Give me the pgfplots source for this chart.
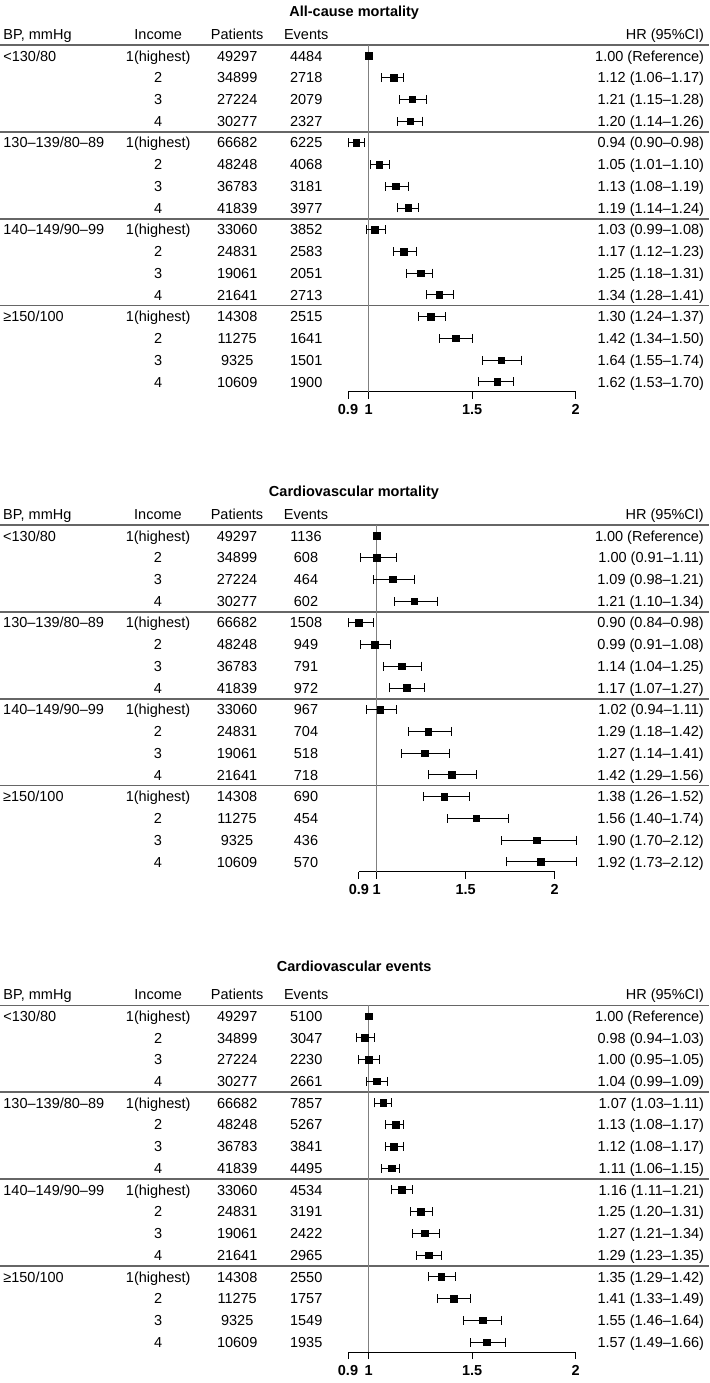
\documentclass[border=0pt]{standalone}
\usepackage{fontspec}
\setmainfont{Liberation Sans}
\usepackage{pgfplots}
\pgfplotsset{compat=1.18}
\usepackage{pgfplotstable}

\pgfplotstableread{
row hr lo hi
1 1.00 1.00 1.00
2 1.12 1.06 1.17
3 1.21 1.15 1.28
4 1.20 1.14 1.26
5 0.94 0.90 0.98
6 1.05 1.01 1.10
7 1.13 1.08 1.19
8 1.19 1.14 1.24
9 1.03 0.99 1.08
10 1.17 1.12 1.23
11 1.25 1.18 1.31
12 1.34 1.28 1.41
13 1.30 1.24 1.37
14 1.42 1.34 1.50
15 1.64 1.55 1.74
16 1.62 1.53 1.70
}\tabA
\pgfplotstableread{
row hr lo hi
1 1.00 1.00 1.00
2 1.00 0.91 1.11
3 1.09 0.98 1.21
4 1.21 1.10 1.34
5 0.90 0.84 0.98
6 0.99 0.91 1.08
7 1.14 1.04 1.25
8 1.17 1.07 1.27
9 1.02 0.94 1.11
10 1.29 1.18 1.42
11 1.27 1.14 1.41
12 1.42 1.29 1.56
13 1.38 1.26 1.52
14 1.56 1.40 1.74
15 1.90 1.70 2.12
16 1.92 1.73 2.12
}\tabB
\pgfplotstableread{
row hr lo hi
1 1.00 1.00 1.00
2 0.98 0.94 1.03
3 1.00 0.95 1.05
4 1.04 0.99 1.09
5 1.07 1.03 1.11
6 1.13 1.08 1.17
7 1.12 1.08 1.17
8 1.11 1.06 1.15
9 1.16 1.11 1.21
10 1.25 1.20 1.31
11 1.27 1.21 1.34
12 1.29 1.23 1.35
13 1.35 1.29 1.42
14 1.41 1.33 1.49
15 1.55 1.46 1.64
16 1.57 1.49 1.66
}\tabC

\definecolor{linegray}{gray}{0.4}
\definecolor{refgray}{gray}{0.5}

\newcommand\setcols[8]{\def\xBP{#1}\def\xInc{#2}\def\xPat{#3}\def\xEv{#4}\def\xHR{#5}\def\xT{#6}\def\xL{#7}\def\xR{#8}}
\newcommand\trow[6]{%
  \node[anchor=base west,yshift=-5.2pt,inner sep=0pt] at (axis cs:\xBP,-#1) {#2};
  \node[anchor=base,yshift=-5.2pt,inner sep=0pt] at (axis cs:\xInc,-#1) {#3};
  \node[anchor=base,yshift=-5.2pt,inner sep=0pt] at (axis cs:\xPat,-#1) {#4};
  \node[anchor=base,yshift=-5.2pt,inner sep=0pt] at (axis cs:\xEv,-#1) {#5};
  \node[anchor=base east,yshift=-5.2pt,inner sep=0pt] at (axis cs:\xHR,-#1) {#6};
}
\newcommand\panelframe[2]{% title, title y
  \node[anchor=base,yshift=-5.2pt,inner sep=0pt,font=\bfseries] at (axis cs:\xT,#2) {#1};
  \trow{0}{BP, mmHg}{Income}{Patients}{Events}{HR (95\%CI)}
  \draw[linegray,line width=1.4pt] (axis cs:\xL,-0.5) -- (axis cs:\xR,-0.5);
  \draw[linegray,line width=1.4pt] (axis cs:\xL,-4.5) -- (axis cs:\xR,-4.5);
  \draw[linegray,line width=1.4pt] (axis cs:\xL,-8.5) -- (axis cs:\xR,-8.5);
  \draw[linegray,line width=1.4pt] (axis cs:\xL,-12.5) -- (axis cs:\xR,-12.5);
}

\pgfplotsset{forest/.style={
  scale only axis, height=346.8pt,
  xmin=0.9, xmax=2, ymin=-16.46, ymax=-0.5,
  axis x line*=bottom, axis y line=none, clip=false,
  xtick={0.9,1,1.5,2}, xticklabels={0.9,1,1.5,2},
  tick align=outside, major tick length=7pt,
  x axis line style={-, black, line width=0.9pt},
  every tick/.style={black, line width=0.9pt},
  xticklabel style={font=\bfseries, yshift=-1pt},
  anchor=south west},
  ebar/.style={black, only marks, mark=none,
   error bars/x dir=both, error bars/x explicit, error bars/error mark=|,
   error bars/error mark options={black, mark size=4.5pt, line width=0.9pt},
   error bars/error bar style={black, line width=0.9pt}},
  sq/.style={black, only marks, mark=square*, mark size=3.3pt}
}

\begin{document}
\fontsize{14.5}{17}\selectfont
\begin{tikzpicture}
\useasboundingbox (0pt,0pt) rectangle (709pt,-1383pt);

% ---------------- Panel 1
\setcols{-0.7657}{-0.0169}{0.3647}{0.6981}{2.6208}{0.93}{-0.7802}{2.6449}
\begin{axis}[forest, width=227.7pt, at={(348.0pt,-391.8pt)}]
\panelframe{All-cause mortality}{1.07}
\addplot[refgray, line width=1.1pt] coordinates {(1,-0.5) (1,-16.46)};
\addplot[ebar, skip coords between index={0}{1}] table[x=hr, y expr=-\thisrow{row},
  x error plus expr=\thisrow{hi}-\thisrow{hr}, x error minus expr=\thisrow{hr}-\thisrow{lo}] {\tabA};
\addplot[sq] table[x=hr, y expr=-\thisrow{row}] {\tabA};
\trow{1}{<130/80}{1(highest)}{49297}{4484}{1.00 (Reference)}
\trow{2}{}{2}{34899}{2718}{1.12 (1.06–1.17)}
\trow{3}{}{3}{27224}{2079}{1.21 (1.15–1.28)}
\trow{4}{}{4}{30277}{2327}{1.20 (1.14–1.26)}
\trow{5}{130–139/80–89}{1(highest)}{66682}{6225}{0.94 (0.90–0.98)}
\trow{6}{}{2}{48248}{4068}{1.05 (1.01–1.10)}
\trow{7}{}{3}{36783}{3181}{1.13 (1.08–1.19)}
\trow{8}{}{4}{41839}{3977}{1.19 (1.14–1.24)}
\trow{9}{140–149/90–99}{1(highest)}{33060}{3852}{1.03 (0.99–1.08)}
\trow{10}{}{2}{24831}{2583}{1.17 (1.12–1.23)}
\trow{11}{}{3}{19061}{2051}{1.25 (1.18–1.31)}
\trow{12}{}{4}{21641}{2713}{1.34 (1.28–1.41)}
\trow{13}{≥150/100}{1(highest)}{14308}{2515}{1.30 (1.24–1.37)}
\trow{14}{}{2}{11275}{1641}{1.42 (1.34–1.50)}
\trow{15}{}{3}{9325}{1501}{1.64 (1.55–1.74)}
\trow{16}{}{4}{10609}{1900}{1.62 (1.53–1.70)}
\end{axis}

% ---------------- Panel 2
\setcols{-1.0994}{-0.2287}{0.2152}{0.6028}{2.8388}{0.8725}{-1.1163}{2.8669}
\begin{axis}[forest, width=195.8pt, at={(358.9pt,-871.8pt)}]
\panelframe{Cardiovascular mortality}{1.07}
\addplot[refgray, line width=1.1pt] coordinates {(1,-0.5) (1,-16.46)};
\addplot[ebar, skip coords between index={0}{1}] table[x=hr, y expr=-\thisrow{row},
  x error plus expr=\thisrow{hi}-\thisrow{hr}, x error minus expr=\thisrow{hr}-\thisrow{lo}] {\tabB};
\addplot[sq] table[x=hr, y expr=-\thisrow{row}] {\tabB};
\trow{1}{<130/80}{1(highest)}{49297}{1136}{1.00 (Reference)}
\trow{2}{}{2}{34899}{608}{1.00 (0.91–1.11)}
\trow{3}{}{3}{27224}{464}{1.09 (0.98–1.21)}
\trow{4}{}{4}{30277}{602}{1.21 (1.10–1.34)}
\trow{5}{130–139/80–89}{1(highest)}{66682}{1508}{0.90 (0.84–0.98)}
\trow{6}{}{2}{48248}{949}{0.99 (0.91–1.08)}
\trow{7}{}{3}{36783}{791}{1.14 (1.04–1.25)}
\trow{8}{}{4}{41839}{972}{1.17 (1.07–1.27)}
\trow{9}{140–149/90–99}{1(highest)}{33060}{967}{1.02 (0.94–1.11)}
\trow{10}{}{2}{24831}{704}{1.29 (1.18–1.42)}
\trow{11}{}{3}{19061}{518}{1.27 (1.14–1.41)}
\trow{12}{}{4}{21641}{718}{1.42 (1.29–1.56)}
\trow{13}{≥150/100}{1(highest)}{14308}{690}{1.38 (1.26–1.52)}
\trow{14}{}{2}{11275}{454}{1.56 (1.40–1.74)}
\trow{15}{}{3}{9325}{436}{1.90 (1.70–2.12)}
\trow{16}{}{4}{10609}{570}{1.92 (1.73–2.12)}
\end{axis}

% ---------------- Panel 3
\setcols{-0.7657}{-0.0169}{0.3647}{0.6981}{2.6208}{0.93}{-0.7802}{2.6449}
\begin{axis}[forest, width=227.7pt, at={(348.0pt,-1352pt)}]
\panelframe{Cardiovascular events}{1.3}
\addplot[refgray, line width=1.1pt] coordinates {(1,-0.5) (1,-16.46)};
\addplot[ebar, skip coords between index={0}{1}] table[x=hr, y expr=-\thisrow{row},
  x error plus expr=\thisrow{hi}-\thisrow{hr}, x error minus expr=\thisrow{hr}-\thisrow{lo}] {\tabC};
\addplot[sq] table[x=hr, y expr=-\thisrow{row}] {\tabC};
\trow{1}{<130/80}{1(highest)}{49297}{5100}{1.00 (Reference)}
\trow{2}{}{2}{34899}{3047}{0.98 (0.94–1.03)}
\trow{3}{}{3}{27224}{2230}{1.00 (0.95–1.05)}
\trow{4}{}{4}{30277}{2661}{1.04 (0.99–1.09)}
\trow{5}{130–139/80–89}{1(highest)}{66682}{7857}{1.07 (1.03–1.11)}
\trow{6}{}{2}{48248}{5267}{1.13 (1.08–1.17)}
\trow{7}{}{3}{36783}{3841}{1.12 (1.08–1.17)}
\trow{8}{}{4}{41839}{4495}{1.11 (1.06–1.15)}
\trow{9}{140–149/90–99}{1(highest)}{33060}{4534}{1.16 (1.11–1.21)}
\trow{10}{}{2}{24831}{3191}{1.25 (1.20–1.31)}
\trow{11}{}{3}{19061}{2422}{1.27 (1.21–1.34)}
\trow{12}{}{4}{21641}{2965}{1.29 (1.23–1.35)}
\trow{13}{≥150/100}{1(highest)}{14308}{2550}{1.35 (1.29–1.42)}
\trow{14}{}{2}{11275}{1757}{1.41 (1.33–1.49)}
\trow{15}{}{3}{9325}{1549}{1.55 (1.46–1.64)}
\trow{16}{}{4}{10609}{1935}{1.57 (1.49–1.66)}
\end{axis}
\end{tikzpicture}
\end{document}
